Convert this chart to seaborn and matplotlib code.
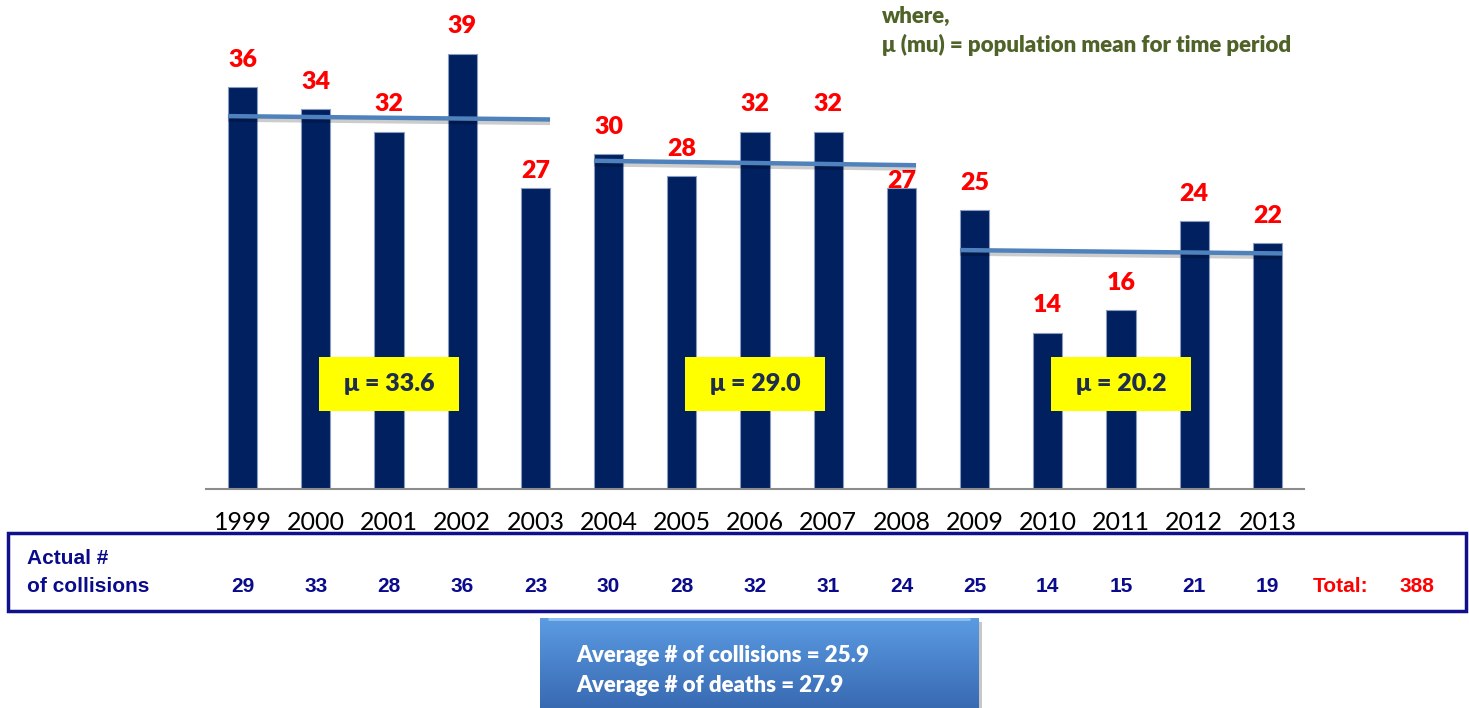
import numpy as np
import pandas as pd
import seaborn as sns
import matplotlib.pyplot as plt
import matplotlib.patheffects as pe
from matplotlib.patches import Rectangle

sns.set_style("white")
plt.rcParams['font.family'] = ['Lato', 'DejaVu Sans']

# data
years = ["1999", "2000", "2001", "2002", "2003", "2004", "2005", "2006",
         "2007", "2008", "2009", "2010", "2011", "2012", "2013"]
deaths = [36, 34, 32, 39, 27, 30, 28, 32, 32, 27, 25, 14, 16, 24, 22]
collisions = [29, 33, 28, 36, 23, 30, 28, 32, 31, 24, 25, 14, 15, 21, 19]
period_first = [0, 5, 10]
period_last = [4, 9, 14]
period_mu_labels = ["μ = 33.6", "μ = 29.0", "μ = 20.2"]
mean_line_start = [33.4, 29.4, 21.4]
mean_line_end = [33.1, 29.0, 21.1]
total_collisions = 388
avg_collisions = 25.9
avg_deaths = 27.9

W, H = 1469, 708
fig = plt.figure(figsize=(W / 100, H / 100), dpi=100)


def fx(px):
    return px / W


def fy(py):
    return 1 - py / H


# main bar chart
ax = fig.add_axes([fx(206), fy(489), fx(1304) - fx(206), 489 / H])
df = pd.DataFrame({"year": years, "deaths": deaths})
sns.barplot(data=df, x="year", y="deaths", color="#002060", width=0.4,
            edgecolor="#8A9CC0", linewidth=0.8, saturation=1, ax=ax)
ax.set_xlim(-0.5, len(years) - 0.5)
ax.set_ylim(0, 43.8)
ax.set_xlabel("")
ax.set_ylabel("")
ax.set_yticks([])
for side in ["top", "left", "right"]:
    ax.spines[side].set_visible(False)
ax.spines["bottom"].set_color("#8C8C8C")
ax.spines["bottom"].set_linewidth(1.5)
ax.set_xticks(range(len(years)))
ax.set_xticklabels(years, fontsize=18, color="black")
ax.tick_params(axis="x", which="major", length=0, pad=16)
ax.set_xticks(np.arange(-0.5, len(years), 1), minor=True)
ax.tick_params(axis="x", which="minor", length=6, width=1.5, color="#8C8C8C", direction="out")

# red value labels (a couple pushed down where the mean line sits)
lift = {4: 1.45, 9: 0.55}
for i, v in enumerate(deaths):
    ax.text(i, v + lift.get(i, 2.45), str(v), ha="center", va="center",
            fontsize=18, fontweight="heavy", color="#FF0000", clip_on=False)

# period mean lines and yellow boxes
for a, b, y0, y1, lab in zip(period_first, period_last, mean_line_start, mean_line_end, period_mu_labels):
    ax.plot([a - 0.2, b + 0.2], [y0, y1], color="#4F81BD", lw=3.2, solid_capstyle="butt",
            path_effects=[pe.SimpleLineShadow(offset=(0, -2.5), shadow_color="black", alpha=0.2),
                          pe.Normal()], zorder=5)
    mid = (a + b) / 2
    ax.add_patch(Rectangle((mid - 0.955, 6.98), 1.91, 4.84, facecolor="#FFFF00",
                           edgecolor="none", zorder=6))
    ax.text(mid, 9.4, lab, ha="center", va="center", fontsize=18, fontweight="heavy",
            color="#1F2D4D", zorder=7)

# legend note
note_kw = dict(fontsize=16, fontweight="heavy", color="#4F6228", ha="left", va="center")
fig.text(fx(882), fy(16), "where,", **note_kw)
fig.text(fx(882), fy(45), "μ (mu) = population mean for time period", **note_kw)

# table of actual collisions
fig.patches.append(Rectangle((fx(8), fy(611)), fx(1466) - fx(8), (611 - 533) / H,
                             transform=fig.transFigure, facecolor="none",
                             edgecolor="#10108A", linewidth=2.5))
tab_kw = dict(fontsize=15, fontweight="bold", color="#0A0A8C", va="center",
              family=["Liberation Sans", "DejaVu Sans"])
fig.text(fx(27), fy(558), "Actual #", ha="left", **tab_kw)
fig.text(fx(27), fy(586), "of collisions", ha="left", **tab_kw)
row_y = fig.transFigure.transform((0, fy(586)))[1]
for i, c in enumerate(collisions):
    xd = ax.transData.transform((i, 0))[0]
    x_fig = fig.transFigure.inverted().transform((xd, row_y))[0]
    fig.text(x_fig, fy(586), str(c), ha="center", **tab_kw)
tab_kw["color"] = "#FF0000"
fig.text(fx(1313), fy(586), "Total:", ha="left", **tab_kw)
fig.text(fx(1400), fy(586), str(total_collisions), ha="left", **tab_kw)

# averages box with gradient and soft shadow
shadow_ax = fig.add_axes([fx(544), 0, fx(982) - fx(544), (708 - 622) / H], zorder=0)
shadow_ax.add_patch(Rectangle((0, 0), 1, 1, facecolor="#9A9A9A", alpha=0.55, edgecolor="none"))
shadow_ax.set_xlim(0, 1)
shadow_ax.set_ylim(0, 1)
shadow_ax.axis("off")
bax = fig.add_axes([fx(540), 0, fx(978) - fx(540), (708 - 618) / H], zorder=1)
grad = np.linspace(0, 1, 100).reshape(-1, 1)
top_col = np.array([0x5B, 0x9B, 0xE2]) / 255
bot_col = np.array([0x38, 0x6A, 0xB2]) / 255
img = top_col * (1 - grad[..., None]) + bot_col * grad[..., None]
bax.imshow(img, aspect="auto", extent=[0, 1, 0, 1])
bax.plot([0.02, 0.98], [0.985, 0.985], color="#8FC0F0", lw=2)
bax.set_xlim(0, 1)
bax.set_ylim(0, 1)
bax.axis("off")
box_kw = dict(fontsize=16, fontweight="heavy", color="white", ha="left", va="center")
fig.text(fx(576), fy(655), "Average # of collisions = {}".format(avg_collisions), **box_kw)
fig.text(fx(576), fy(685), "Average # of deaths = {}".format(avg_deaths), **box_kw)

fig.savefig("out.png", dpi=100)
